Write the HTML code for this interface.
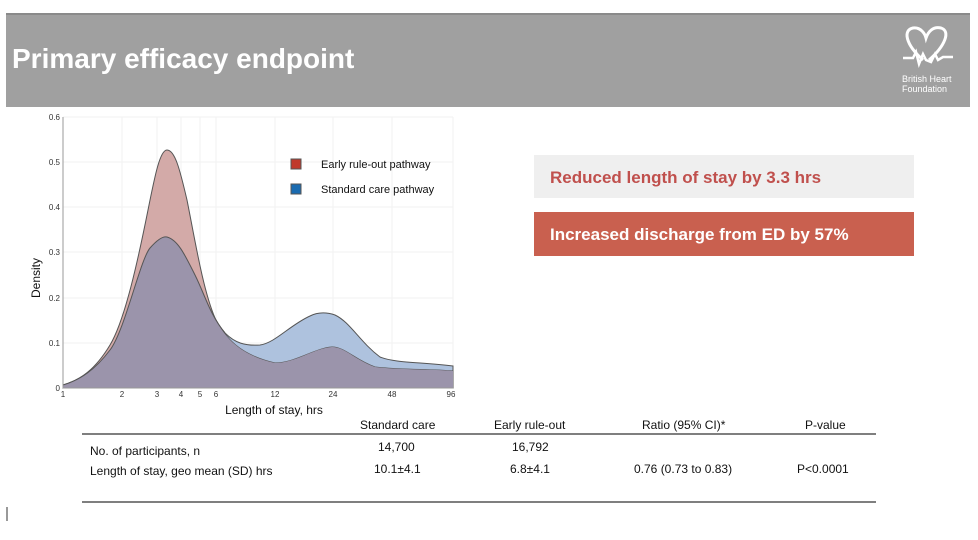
<!DOCTYPE html>
<html><head><meta charset="utf-8"><style>
body{margin:0;width:978px;height:540px;background:#fff;position:relative;overflow:hidden;font-family:"Liberation Sans",sans-serif}
.abs{position:absolute}
.t{font-size:12px;color:#111;position:absolute;white-space:nowrap}
</style></head><body>
<div class="abs" style="left:6px;top:13px;width:964px;height:92px;background:#a0a0a0;border-top:2px solid #8a8a8a"></div>
<div class="abs" style="left:12px;top:43px;color:#fff;font-weight:bold;font-size:28px">Primary efficacy endpoint</div>
<svg class="abs" style="left:895px;top:22px" width="70" height="50" viewBox="0 0 70 50">
<path d="M28 38 C10 22 8 8 18 6 C26 5 30 12 31 16 C33 10 38 4 46 6 C56 9 50 24 34 38" fill="none" stroke="#fff" stroke-width="3"/>
<path d="M8 36 L18 36 L21 30 L24 42 L28 32 L31 38 L36 40 L40 32 L43 38 L48 35 L58 35" fill="none" stroke="#fff" stroke-width="2.5"/>
</svg>
<div class="abs" style="left:902px;top:74px;color:#fff;font-size:9px;line-height:10px">British Heart<br>Foundation</div>

<svg class="abs" style="left:0;top:0" width="978" height="540">
<defs><clipPath id="cb"><path id="bp" d="M63 385 C80 380 95 370 110 350 C125 330 140 260 150 248 C157 240 163 236 167 237 C178 240 185 255 195 275 C205 295 210 315 225 333 C235 343 245 346 260 345 C275 343 290 325 310 316 C318 312 326 312 335 315 C350 322 360 342 380 357 C395 363 420 362 453 366 L453 388 L63 388 Z"/></clipPath></defs>
<g stroke="#f2f2f2" stroke-width="1">
<line x1="63" y1="117" x2="453" y2="117"/><line x1="63" y1="162" x2="453" y2="162"/><line x1="63" y1="207" x2="453" y2="207"/><line x1="63" y1="252" x2="453" y2="252"/><line x1="63" y1="298" x2="453" y2="298"/><line x1="63" y1="343" x2="453" y2="343"/>
<line x1="122" y1="117" x2="122" y2="388"/><line x1="157" y1="117" x2="157" y2="388"/><line x1="181" y1="117" x2="181" y2="388"/><line x1="200" y1="117" x2="200" y2="388"/><line x1="216" y1="117" x2="216" y2="388"/><line x1="275" y1="117" x2="275" y2="388"/><line x1="333" y1="117" x2="333" y2="388"/><line x1="392" y1="117" x2="392" y2="388"/><line x1="453" y1="117" x2="453" y2="388"/>
</g>
<use href="#bp" fill="#aec2de" stroke="#555" stroke-width="1"/>
<path id="rp" d="M63 385 C80 380 95 370 110 345 C125 320 138 260 148 210 C155 175 160 150 167 150 C175 150 180 170 187 200 C195 240 203 290 215 318 C225 338 240 355 275 363 C295 363 315 348 332 347 C345 347 355 360 375 367 C400 370 430 369 453 371 L453 388 L63 388 Z" fill="#d3aaa8" stroke="#555" stroke-width="1"/>
<path d="M63 385 C80 380 95 370 110 345 C125 320 138 260 148 210 C155 175 160 150 167 150 C175 150 180 170 187 200 C195 240 203 290 215 318 C225 338 240 355 275 363 C295 363 315 348 332 347 C345 347 355 360 375 367 C400 370 430 369 453 371 L453 388 L63 388 Z" fill="#9b94ab" clip-path="url(#cb)"/>
<path d="M63 385 C80 380 95 370 110 350 C125 330 140 260 150 248 C157 240 163 236 167 237 C178 240 185 255 195 275 C205 295 210 315 225 333" fill="none" stroke="#555" stroke-width="1"/>
<line x1="63" y1="117" x2="63" y2="388" stroke="#999"/><line x1="63" y1="388" x2="453" y2="388" stroke="#999"/>
<g font-size="8" fill="#333" text-anchor="end">
<text x="60" y="120">0.6</text><text x="60" y="165">0.5</text><text x="60" y="210">0.4</text><text x="60" y="255">0.3</text><text x="60" y="301">0.2</text><text x="60" y="346">0.1</text><text x="60" y="391">0</text></g>
<g font-size="8" fill="#333" text-anchor="middle">
<text x="63" y="397">1</text><text x="122" y="397">2</text><text x="157" y="397">3</text><text x="181" y="397">4</text><text x="200" y="397">5</text><text x="216" y="397">6</text><text x="275" y="397">12</text><text x="333" y="397">24</text><text x="392" y="397">48</text><text x="451" y="397">96</text></g>
<text x="274" y="414" font-size="12" text-anchor="middle" fill="#111">Length of stay, hrs</text>
<text transform="translate(40 278) rotate(-90)" font-size="12" text-anchor="middle" fill="#111">Density</text>
<rect x="291" y="159" width="10" height="10" fill="#c0392b" stroke="#555"/>
<rect x="291" y="184" width="10" height="10" fill="#1a6bb0" stroke="#555"/>
<text x="321" y="168" font-size="11" fill="#111">Early rule-out pathway</text>
<text x="321" y="193" font-size="11" fill="#111">Standard care pathway</text>
<line x1="82" y1="434" x2="876" y2="434" stroke="#333" stroke-width="1.2"/>
<line x1="82" y1="502" x2="876" y2="502" stroke="#333" stroke-width="1.2"/>
<line x1="7" y1="507" x2="7" y2="521" stroke="#333"/>
</svg>
<div class="abs" style="left:534px;top:155px;width:380px;height:43px;background:#efefef"></div>
<div class="abs" style="left:550px;top:168px;color:#c0504d;font-weight:bold;font-size:17px">Reduced length of stay by 3.3 hrs</div>
<div class="abs" style="left:534px;top:212px;width:380px;height:44px;background:#c9604f"></div>
<div class="abs" style="left:550px;top:225px;color:#fff;font-weight:bold;font-size:17px">Increased discharge from ED by 57%</div>
<div class="t" style="left:360px;top:418px">Standard care</div>
<div class="t" style="left:494px;top:418px">Early rule-out</div>
<div class="t" style="left:642px;top:418px">Ratio (95% CI)*</div>
<div class="t" style="left:805px;top:418px">P-value</div>
<div class="t" style="left:90px;top:444px">No. of participants, n</div>
<div class="t" style="left:378px;top:440px">14,700</div>
<div class="t" style="left:512px;top:440px">16,792</div>
<div class="t" style="left:90px;top:464px">Length of stay, geo mean (SD) hrs</div>
<div class="t" style="left:374px;top:462px">10.1±4.1</div>
<div class="t" style="left:510px;top:462px">6.8±4.1</div>
<div class="t" style="left:634px;top:462px">0.76 (0.73 to 0.83)</div>
<div class="t" style="left:797px;top:462px">P&lt;0.0001</div>
</body></html>
